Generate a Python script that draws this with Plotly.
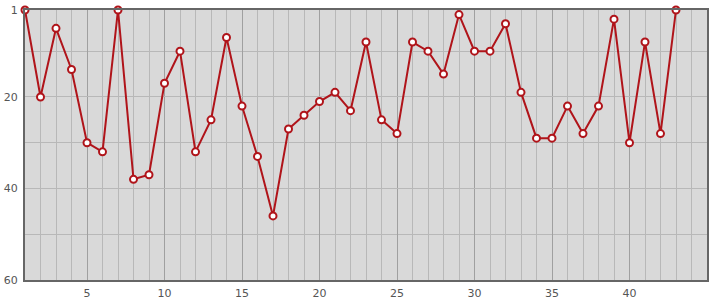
import plotly.graph_objects as go

x_vals = list(range(1, 44))
positions = [1, 20, 5, 14, 30, 32, 1, 38, 37, 17, 10, 32, 25, 7, 22, 33, 46, 27, 24, 21,
             19, 23, 8, 25, 28, 8, 10, 15, 2, 10, 10, 4, 19, 29, 29, 22, 28, 22, 3, 30,
             8, 28, 1]
y_ticks = [1, 20, 40, 60]
x_ticks = [5, 10, 15, 20, 25, 30, 35, 40]

fig = go.Figure()
fig.add_trace(go.Scatter(
    x=x_vals, y=positions, mode="lines+markers",
    line=dict(color="#b0141a", width=2),
    marker=dict(symbol="circle", size=7, color="white",
                line=dict(color="#b0141a", width=2)),
    cliponaxis=False, hoverinfo="x+y",
))

fig.update_layout(
    width=715, height=300,
    margin=dict(l=25, r=8, t=10, b=20),
    paper_bgcolor="white", plot_bgcolor="#d9d9d9",
    showlegend=False,
    font=dict(family="DejaVu Sans", size=11, color="#555"),
    xaxis=dict(range=[1, 45], tickvals=x_ticks, showgrid=True, gridcolor="#a0a0a0",
               gridwidth=1, zeroline=False, showline=True, linecolor="#666",
               linewidth=2, mirror=True, ticks="outside", ticklen=2,
               tickcolor="rgba(0,0,0,0)", automargin=False,
               minor=dict(dtick=1, tick0=0, showgrid=True, gridcolor="#b8b8b8", gridwidth=1)),
    yaxis=dict(range=[60, 1], tickvals=y_ticks, showgrid=True, gridcolor="#b8b8b8",
               gridwidth=1, zeroline=False, showline=True, linecolor="#666",
               linewidth=2, mirror=True, ticks="outside", ticklen=3,
               tickcolor="rgba(0,0,0,0)", automargin=False,
               minor=dict(tickvals=[10, 30, 50], showgrid=True, gridcolor="#b8b8b8", gridwidth=1)),
)

fig.write_html("out.html")
